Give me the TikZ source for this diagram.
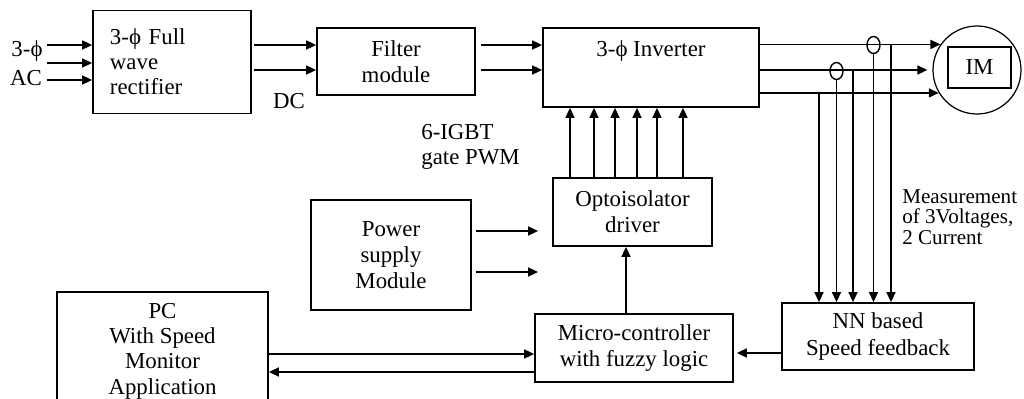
\documentclass[tikz,border=0pt]{standalone}
\usepackage{fontspec}
\setmainfont{Liberation Serif}
\usetikzlibrary{shapes.geometric,arrows.meta,positioning,calc}

\begin{document}
\begin{tikzpicture}[x=0.2mm, y=-0.2mm,
    blk/.style={rectangle, draw, line width=1pt, align=center, font=\fontsize{13}{15}\selectfont},
    arr/.style={-{Triangle[length=2mm, width=1.8mm]}, line width=0.9pt},
    sen/.style={-{Triangle[length=2mm, width=1.8mm]}, line width=0.8pt},
    lbl/.style={font=\fontsize{13}{14.2}\selectfont, inner sep=0pt, align=left}
]
\useasboundingbox (0,0) rectangle (1024,399);

\node[blk, minimum width=31.6mm, minimum height=20.6mm, align=left, text width=24.8mm, font=\fontsize{13}{14.2}\selectfont] (rect) at (172,62) {3-ϕ Full\\wave\\rectifier};
\node[blk, minimum width=31.6mm, minimum height=13.4mm] (filt) at (396,61.5) {Filter\\module};
\node[blk, minimum width=43.2mm, minimum height=15.8mm] (inv) at (651,67.5) {};
\node[font=\fontsize{13}{15}\selectfont, anchor=north] (invtxt) at ($(inv.north)+(0,7)$) {3-ϕ Inverter};
\node[circle, draw, line width=0.7pt, minimum size=17.6mm, inner sep=0pt] (im) at (977,70) {};
\node[blk, minimum width=12.6mm, minimum height=8.2mm] (imbox) at (979.5,67.5) {IM};
\node[ellipse, draw, line width=0.8pt, minimum width=2.6mm, minimum height=3.4mm, inner sep=0pt] (ct1) at (873.5,45) {};
\node[ellipse, draw, line width=0.8pt, minimum width=2.6mm, minimum height=3.4mm, inner sep=0pt] (ct2) at (836.5,71) {};
\node[blk, minimum width=31.8mm, minimum height=13.6mm] (opto) at (632.5,212) {Optoisolator\\driver};
\node[blk, minimum width=32mm, minimum height=22mm] (pwr) at (391,255) {Power\\supply\\Module};
\node[blk, minimum width=42.2mm, minimum height=23.6mm, font=\fontsize{13}{14.4}\selectfont] (pc) at (162.5,351) {PC\\With Speed\\Monitor\\Application};
\node[blk, minimum width=39.6mm, minimum height=13.6mm] (mcu) at (634,348) {Micro-controller\\with fuzzy logic};
\node[blk, minimum width=38.4mm, minimum height=13.4mm] (nn) at (878,336.5) {NN based\\Speed feedback};

% labels
\node[lbl] (lac1) at (27,51) {3-ϕ};
\node[lbl] (lac2) at (26,78) {AC};
\node[lbl] (ldc) at (289,101) {DC};
\node[lbl, anchor=west] (lpwm) at (421,147) {6-IGBT\\gate PWM};
\node[lbl, anchor=west, font=\fontsize{12}{11.5}\selectfont] (lmeas) at (902,217) {Measurement\\of 3Voltages,\\2 Current};

% power path
\foreach \y in {45,63,80} \draw[arr] ($(lac1.east|-0,\y)+(4,0)$) -- (rect.west |- 0,\y);
\foreach \y in {45,70} {
  \draw[arr] ($(rect.east|-0,\y)+(2,0)$) -- (filt.west |- 0,\y);
  \draw[arr] ($(filt.east|-0,\y)+(5,0)$) -- (inv.west |- 0,\y);
}
\draw[arr] (inv.east |- im.145) -- (im.145);
\draw[arr, shorten >=1mm] (inv.east |- im.west) -- (im.west);
\draw[arr] (inv.east |- im.211) -- (im.211);

% sensing
\foreach \x/\s in {819/im.211, 853/im.west, 891/im.145} \draw[sen] (\s -| \x,0) -- (nn.north -| \x,0);
\foreach \c in {ct1, ct2} \draw[sen] (\c.south) -- (nn.north -| \c.south);

% gate signals
\foreach \x in {570,594,615,637,657,683} \draw[arr] (opto.north -| \x,0) -- (inv.south -| \x,0);
\draw[arr] (mcu.north -| 626,0) -- (opto.south -| 626,0);
\foreach \y in {231,272} \draw[arr] ($(pwr.east|-0,\y)+(4,0)$) -- ($(opto.west|-0,\y)+(-14,0)$);

% control links
\draw[arr] (pc.east |- 0,354) -- (mcu.west |- 0,354);
\draw[arr] (mcu.west |- 0,372) -- (pc.east |- 0,372);
\draw[arr] (nn.west |- 0,353) -- ($(mcu.east|-0,353)+(3,0)$);
\end{tikzpicture}
\end{document}
